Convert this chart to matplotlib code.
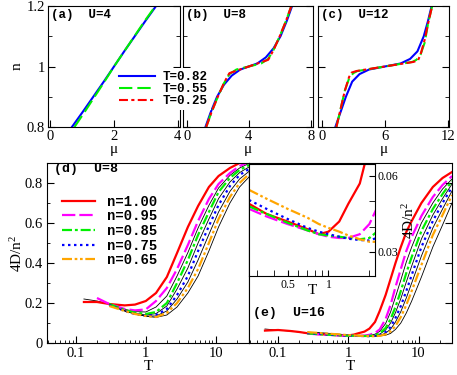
import numpy as np
import matplotlib
matplotlib.use('Agg')
import matplotlib.pyplot as plt
from matplotlib.ticker import FixedLocator, NullFormatter, LogLocator

nan = np.nan

# ---------- top row: n vs mu ----------
n_grid = [0.8, 0.85, 0.9, 0.95, 1.0, 1.05, 1.1, 1.15, 1.2]
a_mu_082 = [0.68, 1.02, 1.35, 1.68, 2.0, 2.32, 2.65, 2.98, 3.32]
a_mu_055 = [0.76, 1.08, 1.39, 1.70, 2.0, 2.32, 2.64, 2.96, 3.30]

n_grid2 = [0.8, 0.85, 0.9, 0.94, 0.97, 0.99, 1.0, 1.01, 1.03, 1.06, 1.1, 1.15, 1.2]
b_mu_082 = [1.2, 1.55, 1.95, 2.4, 2.9, 3.45, 4.0, 4.55, 5.1, 5.6, 6.05, 6.45, 6.8]
b_n_055 = [0.8, 0.85, 0.9, 0.945, 0.975, 0.99, 1.0, 1.01, 1.025, 1.055, 1.1, 1.15, 1.2]
b_mu_055 = [1.25, 1.6, 2.0, 2.4, 2.75, 3.2, 4.0, 4.8, 5.25, 5.6, 6.0, 6.4, 6.75]
b_n_025 = [0.8, 0.85, 0.9, 0.94, 0.965, 0.978, 1.0, 1.022, 1.035, 1.06, 1.1, 1.15, 1.2]
b_mu_025 = [1.25, 1.6, 2.0, 2.35, 2.6, 2.75, 4.0, 5.25, 5.4, 5.65, 6.0, 6.4, 6.75]

c_n_082 = [0.8, 0.85, 0.9, 0.95, 0.975, 0.99, 1.0, 1.01, 1.025, 1.05, 1.1, 1.15, 1.2]
c_mu_082 = [1.3, 1.8, 2.3, 2.9, 3.6, 4.5, 6.0, 7.5, 8.4, 9.1, 9.7, 10.1, 10.45]
c_n_055 = [0.8, 0.86, 0.92, 0.96, 0.978, 0.985, 1.0, 1.015, 1.022, 1.04, 1.08, 1.14, 1.2]
c_mu_055 = [1.4, 1.8, 2.2, 2.6, 3.0, 3.4, 6.0, 8.6, 9.0, 9.4, 9.8, 10.1, 10.5]
c_n_025 = [0.8, 0.86, 0.92, 0.965, 0.98, 0.985, 1.0, 1.015, 1.02, 1.04, 1.09, 1.14, 1.2]
c_mu_025 = [1.4, 1.8, 2.2, 2.6, 2.85, 3.3, 6.0, 8.7, 9.15, 9.4, 9.8, 10.1, 10.5]

# ---------- bottom left: U=8 ----------
d_T = [0.13, 0.2, 0.3, 0.5, 0.7, 1, 1.4, 2, 2.8, 4, 5.6, 8, 11, 16, 22, 30]
d_100 = [0.205, 0.205, 0.195, 0.188, 0.192, 0.21, 0.25, 0.33, 0.45, 0.58, 0.685, 0.78, 0.835, 0.875, 0.90, 0.92]
d_095 = [nan, 0.225, 0.195, 0.17, 0.163, 0.168, 0.21, 0.275, 0.37, 0.49, 0.61, 0.72, 0.795, 0.85, 0.885, 0.905]
d_085 = [nan, nan, 0.195, 0.165, 0.152, 0.145, 0.155, 0.2, 0.30, 0.415, 0.54, 0.655, 0.755, 0.825, 0.865, 0.89]
d_075 = [nan, nan, 0.19, 0.16, 0.145, 0.136, 0.14, 0.17, 0.24, 0.335, 0.46, 0.585, 0.69, 0.785, 0.84, 0.87]
d_065 = [nan, nan, 0.185, 0.16, 0.145, 0.135, 0.13, 0.15, 0.2, 0.275, 0.37, 0.5, 0.62, 0.73, 0.80, 0.845]
# thin black curves (n=0.90, 0.80, 0.70, 0.60)
d_090 = [0.22, 0.21, 0.195, 0.168, 0.157, 0.155, 0.18, 0.235, 0.335, 0.452, 0.575, 0.688, 0.775, 0.838, 0.875, 0.898]
d_080 = [nan, nan, 0.192, 0.162, 0.148, 0.14, 0.147, 0.185, 0.27, 0.375, 0.5, 0.62, 0.722, 0.805, 0.852, 0.88]
d_070 = [nan, nan, 0.188, 0.16, 0.145, 0.135, 0.135, 0.16, 0.22, 0.305, 0.415, 0.543, 0.655, 0.758, 0.82, 0.858]
d_060 = [nan, nan, nan, 0.16, 0.145, 0.134, 0.128, 0.14, 0.18, 0.25, 0.335, 0.46, 0.58, 0.70, 0.78, 0.83]

# ---------- bottom right: U=16 ----------
e_T = [0.065, 0.1, 0.15, 0.2, 0.26, 0.35, 0.5, 0.7, 0.85, 1, 1.2, 1.4, 1.7, 2, 2.4, 2.8,
       3.4, 4, 4.7, 5.6, 6.7, 8, 11, 16, 22, 30]
e_100 = [0.062, 0.065, 0.06, 0.055, 0.049, 0.045, 0.042, 0.039, 0.037, 0.038, 0.042, 0.049, 0.057, 0.072,
         0.105, 0.16, 0.24, 0.32, 0.40, 0.48, 0.555, 0.61, 0.70, 0.78, 0.825, 0.855]
e_095 = [nan, nan, nan, nan, 0.047, 0.044, 0.041, 0.0385, 0.037, 0.036, 0.0355, 0.0355, 0.037, 0.041,
         0.05, 0.068, 0.12, 0.19, 0.28, 0.37, 0.46, 0.53, 0.635, 0.73, 0.79, 0.835]
e_085 = [nan, nan, nan, nan, 0.048, 0.045, 0.0415, 0.0385, 0.037, 0.0365, 0.036, 0.0355, 0.035, 0.0355,
         0.039, 0.048, 0.075, 0.12, 0.18, 0.26, 0.35, 0.43, 0.56, 0.67, 0.745, 0.81]
e_075 = [nan, nan, nan, nan, 0.0505, 0.047, 0.043, 0.0395, 0.038, 0.037, 0.036, 0.0352, 0.0347, 0.0345,
         0.036, 0.04, 0.055, 0.08, 0.125, 0.185, 0.26, 0.34, 0.48, 0.61, 0.70, 0.78]
e_065 = [nan, nan, nan, nan, 0.0545, 0.051, 0.047, 0.0435, 0.041, 0.0395, 0.038, 0.0365, 0.035, 0.034,
         0.034, 0.036, 0.043, 0.058, 0.085, 0.13, 0.19, 0.26, 0.39, 0.54, 0.64, 0.74]
e_090 = [0.07, 0.064, 0.06, 0.055, 0.048, 0.0445, 0.041, 0.0385, 0.037, 0.036, 0.036, 0.0355, 0.036, 0.038,
         0.044, 0.058, 0.097, 0.155, 0.23, 0.315, 0.405, 0.48, 0.6, 0.70, 0.77, 0.82]
e_080 = [nan, nan, nan, nan, 0.049, 0.046, 0.042, 0.039, 0.0375, 0.037, 0.036, 0.0353, 0.035, 0.035,
         0.0375, 0.044, 0.065, 0.1, 0.152, 0.222, 0.305, 0.385, 0.52, 0.64, 0.722, 0.795]
e_070 = [nan, nan, nan, nan, 0.052, 0.049, 0.045, 0.0415, 0.0395, 0.038, 0.037, 0.0358, 0.0348, 0.034,
         0.035, 0.038, 0.049, 0.069, 0.105, 0.157, 0.225, 0.30, 0.435, 0.575, 0.67, 0.76]
e_060 = [nan, nan, nan, nan, nan, 0.053, 0.049, 0.045, 0.0425, 0.041, 0.039, 0.0375, 0.0355, 0.0345,
         0.034, 0.035, 0.039, 0.048, 0.068, 0.10, 0.15, 0.21, 0.33, 0.48, 0.59, 0.70]

T_labels = ['T=0.82', 'T=0.55', 'T=0.25']
n_labels = ['n=1.00', 'n=0.95', 'n=0.85', 'n=0.75', 'n=0.65']

# ---------- style ----------
plt.rcParams['font.family'] = 'Liberation Serif'
plt.rcParams['mathtext.fontset'] = 'custom'
plt.rcParams['mathtext.rm'] = 'Liberation Serif'
plt.rcParams['mathtext.it'] = 'Liberation Serif:italic'
plt.rcParams['xtick.direction'] = 'in'
plt.rcParams['ytick.direction'] = 'in'
plt.rcParams['axes.linewidth'] = 0.8
mono = dict(family='Liberation Mono', weight='bold')

W, H = 457, 375
fig = plt.figure(figsize=(W / 100, H / 100), dpi=100)

def box(l, t, r, b):
    return [l / W, 1 - b / H, (r - l) / W, (b - t) / H]

Tcol = ['#0000ff', '#00f000', '#ff0000']
Tsty = ['-', (0, (6.4, 2.4)), (0, (4.3, 1.6, 1.5, 1.6))]
ncol = ['#ff0000', '#ff00ff', '#00f000', '#0000ff', '#ffa500']
nsty = ['-', (0, (6, 1.8)), (0, (4.5, 1.3, 1.3, 1.3)), (0, (1.1, 1.6)),
        (0, (4.5, 1.2, 1.2, 1.2, 1.2, 1.2))]

# top panels
axA = fig.add_axes(box(48, 6, 180, 127))
axB = fig.add_axes(box(183, 6, 313, 127))
axC = fig.add_axes(box(318, 6, 449, 127))

axA.plot(a_mu_082, n_grid, color=Tcol[0], ls=Tsty[0], lw=1.5)
axA.plot(a_mu_055, n_grid, color=Tcol[1], ls=Tsty[1], lw=1.5)

hB = []
hB += axB.plot(b_mu_082, n_grid2, color=Tcol[0], ls=Tsty[0], lw=1.5)
hB += axB.plot(b_mu_055, b_n_055, color=Tcol[1], ls=Tsty[1], lw=1.5)
hB += axB.plot(b_mu_025, b_n_025, color=Tcol[2], ls=Tsty[2], lw=1.5)

axC.plot(c_mu_082, c_n_082, color=Tcol[0], ls=Tsty[0], lw=1.5)
axC.plot(c_mu_055, c_n_055, color=Tcol[1], ls=Tsty[1], lw=1.5)
axC.plot(c_mu_025, c_n_025, color=Tcol[2], ls=Tsty[2], lw=1.5)

for ax, xl, xt, lab in [(axA, (-0.07, 4.07), [0, 2, 4], '(a)  U=4'),
                        (axB, (-0.25, 8.15), [0, 4, 8], '(b)  U=8'),
                        (axC, (-0.35, 12.1), [0, 6, 12], '(c)  U=12')]:
    ax.set_xlim(*xl)
    ax.set_ylim(0.8, 1.2)
    ax.set_xticks(xt)
    ax.set_xticklabels([str(v) for v in xt])
    ax.set_yticks([0.8, 1.0, 1.2])
    ax.yaxis.set_minor_locator(FixedLocator([0.9, 1.1]))
    ax.tick_params(which='both', left=True, right=True, labelsize=10.5, pad=2)
    ax.tick_params(which='major', length=5)
    ax.tick_params(which='minor', length=3)
    ax.set_xlabel('μ', fontsize=11, labelpad=0)
    ax.text(0.02, 0.975, lab, transform=ax.transAxes, va='top', ha='left', fontsize=9, **mono)
    if ax is axA:
        ax.set_yticklabels(['0.8', '1', '1.2'])
        ax.set_ylabel('n', fontsize=11, labelpad=2)
    else:
        ax.set_yticklabels([])

fig.legend(hB, T_labels, loc='upper left', bbox_to_anchor=(116 / W, 1 - 68 / H),
           prop=dict(size=9, **mono), frameon=True, facecolor='white', edgecolor='none',
           framealpha=1, fancybox=False, borderpad=0.25, labelspacing=0.0,
           handlelength=2.9, handletextpad=0.6, borderaxespad=0)

# bottom panels
axD = fig.add_axes(box(47, 163, 249, 343))
axE = fig.add_axes(box(249, 163, 452, 343))

for v in [d_090, d_080, d_070, d_060]:
    axD.plot(d_T, v, color='black', lw=0.6)
hD = []
for v, c, s in zip([d_100, d_095, d_085, d_075, d_065], ncol, nsty):
    hD += axD.plot(d_T, v, color=c, ls=s, lw=1.6)

for v in [e_090, e_080, e_070, e_060]:
    axE.plot(e_T, v, color='black', lw=0.6)
e_series = [e_100, e_095, e_085, e_075, e_065]
for v, c, s in zip(e_series, ncol, nsty):
    axE.plot(e_T, v, color=c, ls=s, lw=1.6)

for ax in (axD, axE):
    ax.set_xscale('log')
    ax.set_xlim(0.0385, 30)
    ax.set_ylim(0, 0.9)
    ax.xaxis.set_major_locator(FixedLocator([0.1, 1, 10]))
    ax.set_xticklabels(['0.1', '1', '10'])
    ax.xaxis.set_minor_locator(LogLocator(base=10, subs=np.arange(2, 10)))
    ax.xaxis.set_minor_formatter(NullFormatter())
    ax.set_yticks([0, 0.2, 0.4, 0.6, 0.8])
    ax.yaxis.set_minor_locator(FixedLocator([0.1, 0.3, 0.5, 0.7]))
    ax.tick_params(which='major', length=5, labelsize=10.5, pad=3)
    ax.tick_params(which='minor', length=2.5)
    ax.set_xlabel('T', fontsize=11, labelpad=0)

axD.set_yticklabels(['0', '0.2', '0.4', '0.6', '0.8'])
axD.set_ylabel('4D/n$^{2}$', fontsize=11, labelpad=0)
axD.tick_params(axis='y', which='both', left=True, right=False)
axE.tick_params(axis='y', which='both', left=False, right=True, labelleft=False)

axD.text(0.035, 1.0, '(d)  U=8', transform=axD.transAxes, va='top', ha='left', fontsize=9.5, **mono)
axE.text(0.02, 0.167, '(e)  U=16', transform=axE.transAxes, va='center', ha='left', fontsize=9.5, **mono)

axD.legend(hD, n_labels, loc='upper left', bbox_to_anchor=(0.075, 0.825), frameon=False,
           prop=dict(size=10, **mono), labelspacing=0.05, handlelength=2.4,
           handletextpad=0.8, borderpad=0, borderaxespad=0)

# inset
ins = fig.add_axes(box(249, 164, 375, 276))
for v, c, s in zip(e_series, ncol, nsty):
    ins.plot(e_T, v, color=c, ls=s, lw=1.6)
ins.set_xscale('log')
ins.set_xlim(0.26, 2.2)
ins.set_ylim(0.0205, 0.0647)
ins.xaxis.set_major_locator(FixedLocator([0.5, 1]))
ins.set_xticklabels(['0.5', '1'])
ins.xaxis.set_minor_locator(FixedLocator([0.3, 0.4, 0.6, 0.7, 0.8, 0.9, 2]))
ins.xaxis.set_minor_formatter(NullFormatter())
ins.yaxis.set_major_locator(FixedLocator([0.03, 0.06]))
ins.yaxis.set_minor_locator(FixedLocator([0.04, 0.05]))
ins.yaxis.tick_right()
ins.set_yticklabels(['0.03', '0.06'])
ins.tick_params(which='major', length=4, labelsize=8.5, pad=2)
ins.tick_params(which='minor', length=4)
ins.tick_params(axis='y', which='both', left=False, right=True)
ins.yaxis.set_label_position('right')
ins.set_ylabel('4D/n$^{2}$', fontsize=11, labelpad=2)
ins.text(0.5, -0.13, 'T', transform=ins.transAxes, ha='center', va='center', fontsize=11)

fig.savefig('out.png', dpi=100)
